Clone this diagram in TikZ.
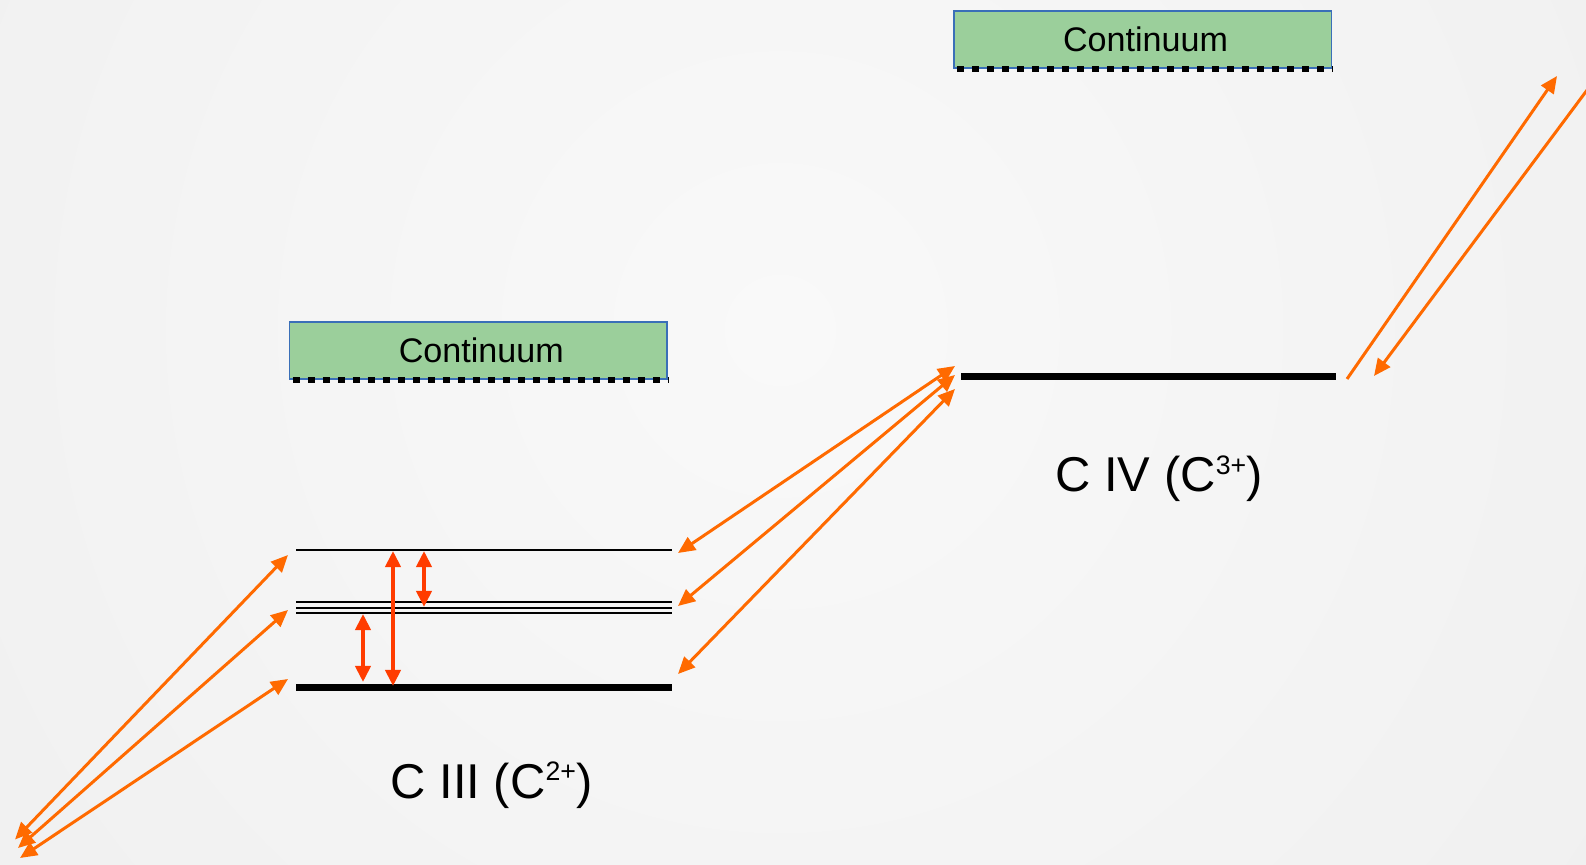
\documentclass[tikz,border=0pt]{standalone}
\usepackage{fontspec}
\setmainfont{Liberation Sans}
\usetikzlibrary{arrows.meta}
\definecolor{bgin}{HTML}{F9F9F9}
\definecolor{bgout}{HTML}{E8E8E8}
\definecolor{contfill}{HTML}{9BCF9B}
\definecolor{contedge}{HTML}{3A6FB8}
\definecolor{orangeline}{HTML}{FF6A00}
\definecolor{redline}{HTML}{FF3C00}
\newcommand\ionsup[1]{\raisebox{5pt}{\fontsize{7.6pt}{8pt}\selectfont #1}}
\begin{document}
\begin{tikzpicture}[x=0.01cm,y=-0.01cm,
  contbox/.style={draw=contedge, line width=0.5pt, fill=contfill, minimum width=3.775cm, minimum height=0.57cm, inner sep=0pt, font=\fontsize{9.7pt}{11pt}\selectfont},
  dotline/.style={line width=1.7pt, dash pattern=on 0.07cm off 0.08cm},
  thicklevel/.style={line width=2pt},
  thinlevel/.style={line width=0.57pt},
  finelevel/.style={line width=0.47pt},
  trans/.style={draw=orangeline, line width=0.85pt, {Triangle[length=0.17cm,width=0.15cm]}-{Triangle[length=0.17cm,width=0.15cm]}},
  transone/.style={draw=orangeline, line width=0.85pt, -{Triangle[length=0.17cm,width=0.15cm]}},
  redtrans/.style={draw=redline, line width=1.1pt, {Triangle[length=0.16cm,width=0.15cm]}-{Triangle[length=0.16cm,width=0.15cm]}},
  lbl/.style={anchor=base, inner sep=0pt, font=\fontsize{13.9pt}{16pt}\selectfont}
]
% background
\begin{scope}
\clip (0,0) rectangle (1586,865);
\fill[bgout] (0,0) rectangle (1586,865);
\shade[inner color=bgin, outer color=bgout] (780,330) circle (1900);
\end{scope}
\useasboundingbox (0,0) rectangle (1586,865);

% continuum boxes
\node[contbox] (cont1) at (478.25,350.5) {\hspace{0.06cm}Continuum};
\draw[dotline] ([xshift=0.04cm]cont1.south west) -- (cont1.south east);
\node[contbox] (cont2) at (1142.5,39.5) {\hspace{0.06cm}Continuum};
\draw[dotline] ([xshift=0.04cm]cont2.south west) -- (cont2.south east);

% C III levels
\coordinate (t1) at (296,550); \coordinate (t2) at (672,550);
\coordinate (a1) at (296,602.3); \coordinate (a2) at (672,602.3);
\coordinate (b1) at (296,607.7); \coordinate (b2) at (672,607.7);
\coordinate (c1) at (296,613); \coordinate (c2) at (672,613);
\coordinate (g1) at (296,687.3); \coordinate (g2) at (672,687.3);
\draw[thinlevel] (t1) -- (t2);
\draw[finelevel] (a1) -- (a2);
\draw[finelevel] (b1) -- (b2);
\draw[finelevel] (c1) -- (c2);
\draw[thicklevel] (g1) -- (g2);

% C IV level
\coordinate (iv1) at (961,376.5); \coordinate (iv2) at (1336,376.5);
\draw[thicklevel] (iv1) -- (iv2);

% red transitions within C III
\coordinate (r1a) at (393,551); \coordinate (r1b) at (393,686);
\coordinate (r2a) at (424,551); \coordinate (r2b) at (424,607);
\coordinate (r3a) at (363,614); \coordinate (r3b) at (363,682);
\draw[redtrans] (r1a) -- (r1b);
\draw[redtrans] (r2a) -- (r2b);
\draw[redtrans] (r3a) -- (r3b);

% left orange transitions
\coordinate (l1a) at (15,839.5); \coordinate (l1b) at (288,555);
\coordinate (l2a) at (18,848); \coordinate (l2b) at (288,610);
\coordinate (l3a) at (20,858); \coordinate (l3b) at (288,679);
\draw[trans] (l1a) -- (l1b);
\draw[trans] (l2a) -- (l2b);
\draw[trans] (l3a) -- (l3b);

% middle orange transitions
\coordinate (m1a) at (678,553); \coordinate (m1b) at (955,366);
\coordinate (m2a) at (678,606); \coordinate (m2b) at (955,375);
\coordinate (m3a) at (678,674); \coordinate (m3b) at (955,389);
\draw[trans] (m1a) -- (m1b);
\draw[trans] (m2a) -- (m2b);
\draw[trans] (m3a) -- (m3b);

% right orange transitions
\coordinate (u1a) at (1347,379); \coordinate (u1b) at (1557,76);
\coordinate (d1a) at (1602,70); \coordinate (d1b) at (1374,376);
\draw[transone] (u1a) -- (u1b);
\draw[transone] (d1a) -- (d1b);

% labels
\node[lbl] (c3lbl) at (491.5,798) {C III (C\ionsup{2+})};
\node[lbl] (c4lbl) at (1159,492) {C IV (C\ionsup{3+})};
\end{tikzpicture}
\end{document}
